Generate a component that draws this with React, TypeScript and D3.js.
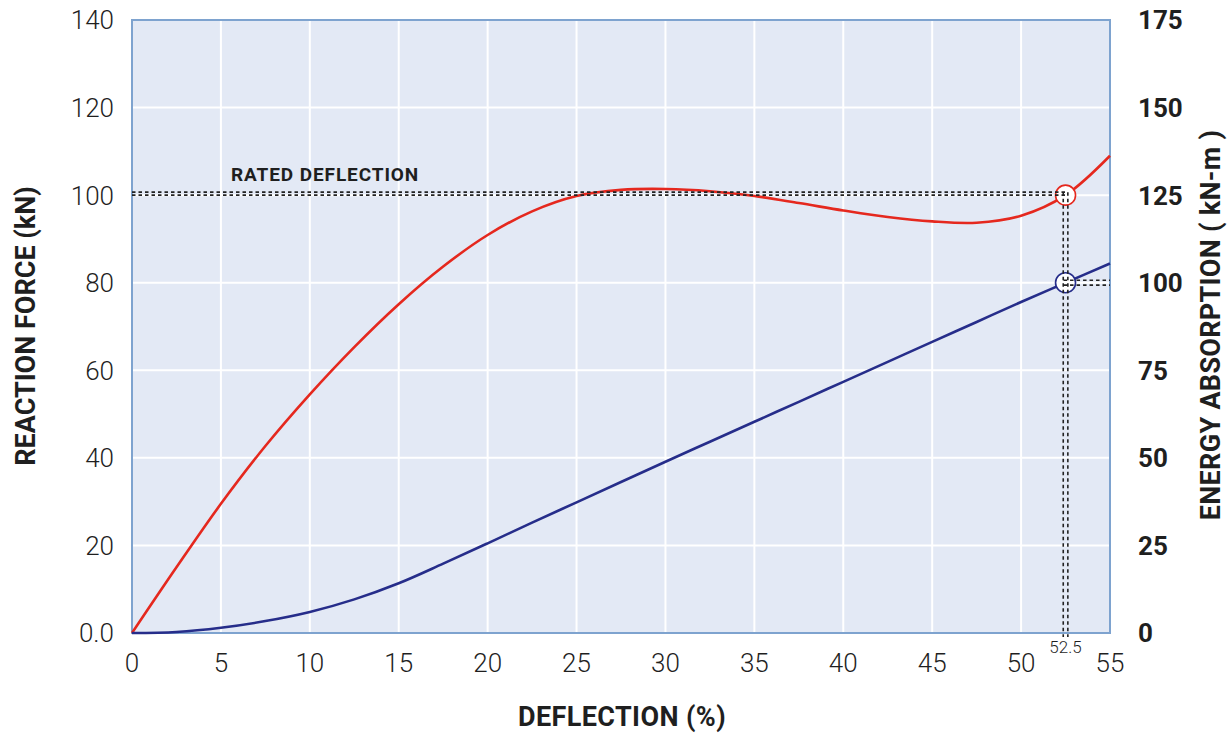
import React from "react";
import * as d3 from "d3";

// deflection (%) vs reaction force (kN) and energy absorption (kN-m)
const deflection = [0, 2.5, 5, 7.5, 10, 12.5, 15, 17.5, 20, 22.5, 25, 27.5, 30, 32.5, 35, 37.5, 40, 42.5, 45, 47.5, 50, 52.5, 55];
const force = [0, 15, 29.5, 42.7, 54.5, 65.3, 75.1, 83.7, 90.9, 96.3, 99.8, 101.2, 101.4, 100.9, 99.8, 98.2, 96.5, 95, 94, 93.7, 95.3, 100, 109];
const energy = [0, 0.3, 1.5, 3.4, 6, 9.6, 14.2, 19.8, 25.6, 31.5, 37.3, 43.1, 48.9, 54.6, 60.3, 66, 71.7, 77.4, 83.1, 88.8, 94.5, 100, 105.5];

const xTicks = [0, 5, 10, 15, 20, 25, 30, 35, 40, 45, 50, 55];
const forceTicks = [0, 20, 40, 60, 80, 100, 120, 140];
const energyTicks = [0, 25, 50, 75, 100, 125, 150, 175];

const ratedDeflection = 52.5;
const ratedForce = 100;
const ratedEnergy = 100;

const W = 1230;
const H = 733;
const M = { left: 132, right: 1110, top: 20, bottom: 633 };

const RED = "#e5281e";
const BLUE = "#262d8a";
const TXT = "#1f1f1f";
const FONT = "Roboto, 'DejaVu Sans', sans-serif";

export default function App() {
	const x = d3.scaleLinear().domain([0, 55]).range([M.left, M.right]);
	const yF = d3.scaleLinear().domain([0, 140]).range([M.bottom, M.top]);
	const yE = d3.scaleLinear().domain([0, 175]).range([M.bottom, M.top]);

	const forceLine = d3
		.line<number>()
		.x((_, i) => x(deflection[i]))
		.y((d) => yF(d))
		.curve(d3.curveCatmullRom.alpha(0.5));
	const energyLine = d3
		.line<number>()
		.x((_, i) => x(deflection[i]))
		.y((d) => yE(d))
		.curve(d3.curveCatmullRom.alpha(0.5));

	const rx = x(ratedDeflection);
	const ryF = yF(ratedForce);
	const ryE = yE(ratedEnergy);
	const dot = { stroke: "#222", strokeWidth: 1.6, strokeDasharray: "3.5,3" };

	return (
		<svg width={W} height={H} style={{ position: "absolute", left: 0, top: 0, background: "#fff" }}>
			{/* plot background */}
			<rect x={M.left} y={M.top} width={M.right - M.left} height={M.bottom - M.top} fill="#e3e9f5" />
			{/* grid */}
			{xTicks.slice(1, -1).map((t) => (
				<line key={"gx" + t} x1={x(t)} x2={x(t)} y1={M.top} y2={M.bottom} stroke="#fff" strokeWidth={2} />
			))}
			{forceTicks.slice(1, -1).map((t) => (
				<line key={"gy" + t} x1={M.left} x2={M.right} y1={yF(t)} y2={yF(t)} stroke="#fff" strokeWidth={2} />
			))}
			<rect x={M.left} y={M.top} width={M.right - M.left} height={M.bottom - M.top} fill="none" stroke="#7ea3cf" strokeWidth={2} />

			{/* curves */}
			<path d={forceLine(force) || ""} fill="none" stroke={RED} strokeWidth={2.6} />
			<path d={energyLine(energy) || ""} fill="none" stroke={BLUE} strokeWidth={2.6} />

			{/* rated markers */}
			<circle cx={rx} cy={ryF} r={10} fill="#fff" stroke={RED} strokeWidth={1.6} />
			<circle cx={rx} cy={ryE} r={10} fill="#fff" stroke={BLUE} strokeWidth={1.6} />

			{/* rated deflection guides */}
			<line x1={M.left} x2={rx + 2} y1={ryF - 3} y2={ryF - 3} {...dot} />
			<line x1={M.left} x2={rx + 2} y1={ryF} y2={ryF} {...dot} />
			<line x1={rx - 2.3} x2={rx - 2.3} y1={ryF - 3} y2={M.bottom + 4} {...dot} />
			<line x1={rx + 2.3} x2={rx + 2.3} y1={ryF - 3} y2={M.bottom + 4} {...dot} />
			<line x1={rx - 2} x2={M.right} y1={ryE - 2.4} y2={ryE - 2.4} {...dot} />
			<line x1={rx - 2} x2={M.right} y1={ryE + 2.4} y2={ryE + 2.4} {...dot} />
			<text x={231} y={181} fontFamily={FONT} fontWeight={700} fontSize={19} letterSpacing={0.9} fill={TXT}>
				RATED DEFLECTION
			</text>

			{/* left axis ticks */}
			{forceTicks.map((t) => (
				<text key={"lf" + t} x={114} y={yF(t)} dy="0.36em" textAnchor="end" fontFamily={FONT} fontWeight={300} fontSize={26} fill={TXT}>
					{t === 0 ? "0.0" : t}
				</text>
			))}
			{/* right axis ticks */}
			{energyTicks.map((t) => (
				<text key={"re" + t} x={1138} y={yE(t)} dy="0.36em" textAnchor="start" fontFamily={FONT} fontWeight={700} fontSize={26} fill={TXT}>
					{t}
				</text>
			))}
			{/* bottom ticks */}
			{xTicks.map((t) => (
				<text key={"bx" + t} x={x(t)} y={672} textAnchor="middle" fontFamily={FONT} fontWeight={300} fontSize={26} fill={TXT}>
					{t}
				</text>
			))}
			<text x={rx} y={653} textAnchor="middle" fontFamily={FONT} fontWeight={300} fontSize={17} fill={TXT}>
				{ratedDeflection}
			</text>

			{/* axis titles */}
			<text x={622} y={726} textAnchor="middle" fontFamily={FONT} fontWeight={700} fontSize={27} letterSpacing={0.4} fill={TXT}>
				DEFLECTION (%)
			</text>
			<text transform="translate(35,326) rotate(-90)" textAnchor="middle" fontFamily={FONT} fontWeight={700} fontSize={27} fill={TXT}>
				REACTION FORCE (kN)
			</text>
			<text transform="translate(1220,325) rotate(-90)" textAnchor="middle" fontFamily={FONT} fontWeight={700} fontSize={27} letterSpacing={0.3} fill={TXT}>
				ENERGY ABSORPTION ( kN-m )
			</text>
		</svg>
	);
}
